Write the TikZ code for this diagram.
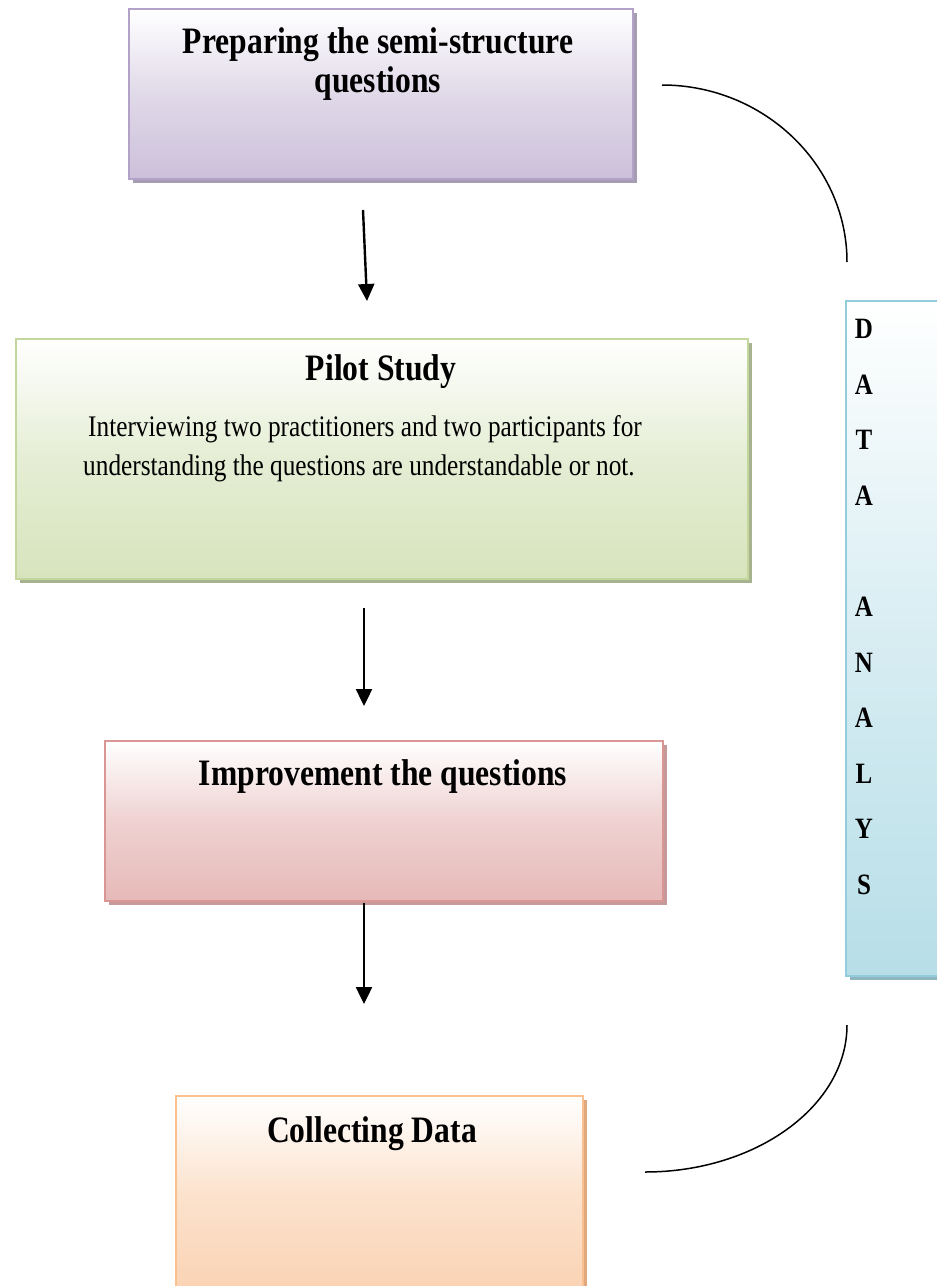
\documentclass[tikz,border=0pt]{standalone}
\usepackage{graphicx}
\usepackage{fontspec}
\setmainfont{Liberation Serif}
\usetikzlibrary{shadows,arrows.meta}
\newcommand{\vstretch}[1]{\scalebox{1}[1.18]{#1}}
\definecolor{purpfill}{HTML}{CCC0DA}
\definecolor{purpline}{HTML}{B3A2C7}
\definecolor{purpshad}{HTML}{A79DB3}
\definecolor{greenfill}{HTML}{D7E4BD}
\definecolor{greenline}{HTML}{C3D69B}
\definecolor{greenshad}{HTML}{A7B38E}
\definecolor{redfill}{HTML}{E6B9B8}
\definecolor{redline}{HTML}{D99694}
\definecolor{redshad}{HTML}{C59A99}
\definecolor{orfill}{HTML}{FAD3B3}
\definecolor{orline}{HTML}{FAC090}
\definecolor{orshad}{HTML}{E0A87E}
\definecolor{bluefill}{HTML}{B7DEE8}
\definecolor{blueline}{HTML}{93CDDD}
\definecolor{blueshad}{HTML}{8FB5C0}
\begin{document}
\begin{tikzpicture}[x=1pt,y=-1pt,
  flowbox/.style={rectangle, draw, line width=2pt, inner sep=0pt, anchor=north west},
  purpbox/.style={flowbox, draw=purpline, top color=white, bottom color=purpfill, middle color=purpfill!60!white,
     drop shadow={shadow xshift=4pt, shadow yshift=-4pt, fill=purpshad, opacity=1}},
  greenbox/.style={flowbox, draw=greenline, top color=white, bottom color=greenfill, middle color=greenfill!65!white,
     drop shadow={shadow xshift=4pt, shadow yshift=-4pt, fill=greenshad, opacity=1}},
  redbox/.style={flowbox, draw=redline, top color=white, bottom color=redfill, middle color=redfill!65!white,
     drop shadow={shadow xshift=4pt, shadow yshift=-4pt, fill=redshad, opacity=1}},
  orbox/.style={flowbox, draw=orline, top color=white, bottom color=orfill, middle color=orfill!65!white,
     drop shadow={shadow xshift=4pt, shadow yshift=-4pt, fill=orshad, opacity=1}},
  bluebox/.style={flowbox, draw=blueline, top color=white, bottom color=bluefill, middle color=bluefill!55!white,
     drop shadow={shadow xshift=4pt, shadow yshift=-4pt, fill=blueshad, opacity=1}},
  titletext/.style={inner sep=0pt, font=\fontsize{31.6}{38}\selectfont\bfseries},
  bodytext/.style={inner sep=0pt, font=\fontsize{25.3}{39}\selectfont},
  lettertext/.style={inner sep=0pt, font=\fontsize{25}{30}\selectfont\bfseries},
  flowarrow/.style={line width=2.4pt, -{Triangle[width=16pt,length=17pt]}},
  curveline/.style={line width=1.5pt}
]
\useasboundingbox (0,0) rectangle (937,1286);

% boxes
\node[purpbox, minimum width=504pt, minimum height=170pt] (prep) at (128,8) {};
\node[greenbox, minimum width=732pt, minimum height=240pt] (pilot) at (15,338) {};
\node[redbox, minimum width=558pt, minimum height=160pt] (impr) at (104,740) {};
\node[orbox, minimum width=407pt, minimum height=195pt] (coll) at (175,1095) {};
\node[bluebox, minimum width=95pt, minimum height=675pt] (side) at (845,300) {};

% texts
\node[titletext] (prept1) at (378,45) {\vstretch{Preparing the semi-structure}};
\node[titletext] (prept2) at (378,84) {\vstretch{questions}};
\node[titletext] (pilott) at (381,372) {\vstretch{Pilot Study}};
\node[bodytext] (pilotb1) at (365,429) {\vstretch{Interviewing two practitioners and two participants for}};
\node[bodytext] (pilotb2) at (359,468) {\vstretch{understanding the questions are understandable or not.}};
\node[titletext] (imprt) at (383,777) {\vstretch{Improvement the questions}};
\node[titletext] (collt) at (372,1134) {\vstretch{Collecting Data}};

\foreach \l/\yy in {D/329, A/385, T/440, A/496, A/607, N/663, A/718, L/774, Y/829, S/885}
  \node[lettertext] at (864,\yy) {\vstretch{\l}};

% arrows
\coordinate (a1s) at (363,210); \coordinate (a1e) at (367,301);
\coordinate (a2s) at (364,608); \coordinate (a2e) at (364,706);
\coordinate (a3s) at (364,903); \coordinate (a3e) at (364,1004);
\draw[flowarrow] (a1s) -- (a1e);
\draw[flowarrow] (a2s) -- (a2e);
\draw[flowarrow] (a3s) -- (a3e);

% curves
\coordinate (c1s) at (662,85); \coordinate (c1e) at (847,262);
\draw[curveline] (c1s) .. controls (764,85) and (847,165) .. (c1e);
\coordinate (c2s) at (847,1025); \coordinate (c2e) at (645,1172);
\draw[curveline] (c2s) .. controls (847,1106) and (756,1172) .. (c2e);
\end{tikzpicture}
\end{document}
